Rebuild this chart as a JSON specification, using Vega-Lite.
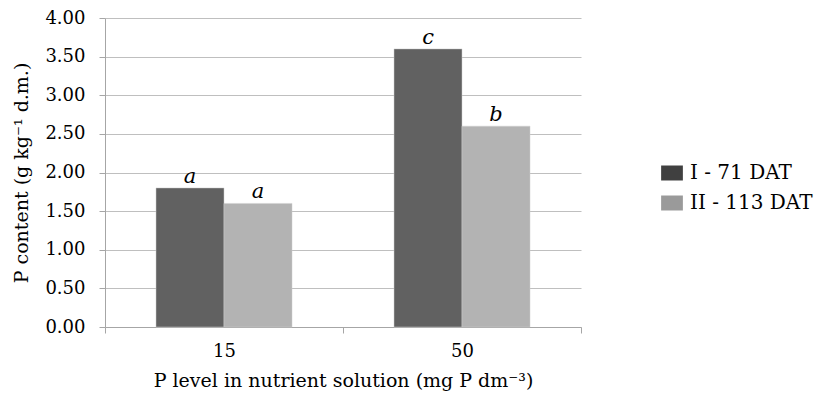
{
  "$schema": "https://vega.github.io/schema/vega-lite/v6.json",
  "width": 476,
  "height": 309,
  "autosize": "none",
  "padding": {"left": 105, "top": 18, "right": 237, "bottom": 66},
  "background": "white",
  "config": {
    "view": {"stroke": null},
    "font": "DejaVu Serif",
    "axis": {"labelFont": "DejaVu Serif", "titleFont": "DejaVu Serif", "labelColor": "#000", "titleColor": "#000", "titleFontWeight": "normal"},
    "legend": {"labelFont": "DejaVu Serif"}
  },
  "data": {
    "values": [
      {"level": "15", "period": "I - 71 DAT", "value": 1.8, "letter": "a"},
      {"level": "15", "period": "II - 113 DAT", "value": 1.6, "letter": "a"},
      {"level": "50", "period": "I - 71 DAT", "value": 3.6, "letter": "c"},
      {"level": "50", "period": "II - 113 DAT", "value": 2.6, "letter": "b"}
    ]
  },
  "encoding": {
    "x": {
      "field": "level", "type": "nominal",
      "scale": {"paddingInner": 0, "paddingOuter": 0},
      "axis": {
        "title": "P level in nutrient solution (mg P dm⁻³)",
        "labelAngle": 0, "labelFontSize": 18, "titleFontSize": 19,
        "tickBand": "extent", "tickSize": 6, "tickColor": "#a6a6a6",
        "domainColor": "#a6a6a6", "labelPadding": 9, "titlePadding": 11
      }
    },
    "xOffset": {"field": "period", "type": "nominal", "scale": {"paddingInner": 0, "paddingOuter": 0.75}},
    "y": {
      "field": "value", "type": "quantitative",
      "scale": {"domain": [0, 4]},
      "axis": {
        "title": "P content (g kg⁻¹ d.m.)",
        "values": [0, 0.5, 1, 1.5, 2, 2.5, 3, 3.5, 4],
        "format": ".2f", "labelFontSize": 18, "titleFontSize": 19,
        "gridColor": "#bfbfbf", "tickColor": "#a6a6a6", "domainColor": "#a6a6a6",
        "tickSize": 6, "labelPadding": 14, "titlePadding": 13
      }
    }
  },
  "resolve": {"scale": {"color": "independent"}},
  "layer": [
    {
      "mark": {"type": "bar", "stroke": "#cfcfcf", "strokeWidth": 0.5},
      "encoding": {
        "color": {
          "field": "period", "type": "nominal",
          "scale": {"domain": ["I - 71 DAT", "II - 113 DAT"], "range": ["#616161", "#b3b3b3"]},
          "legend": null
        }
      }
    },
    {
      "mark": {"type": "bar", "opacity": 0},
      "encoding": {
        "color": {
          "field": "period", "type": "nominal",
          "scale": {"domain": ["I - 71 DAT", "II - 113 DAT"], "range": ["#404040", "#9a9a9a"]},
          "legend": {
            "title": null, "orient": "none", "legendX": 557, "legendY": 145,
            "labelFontSize": 20, "symbolType": "M-1.45,-1L1.45,-1L1.45,1L-1.45,1Z", "symbolSize": 225,
            "symbolStrokeWidth": 0, "symbolOpacity": 1, "rowPadding": 10, "labelOffset": 8
          }
        }
      }
    },
    {
      "mark": {"type": "text", "dy": -5, "baseline": "alphabetic", "fontSize": 21, "fontStyle": "italic", "font": "DejaVu Serif", "color": "#000"},
      "encoding": {"text": {"field": "letter"}}
    }
  ]
}
